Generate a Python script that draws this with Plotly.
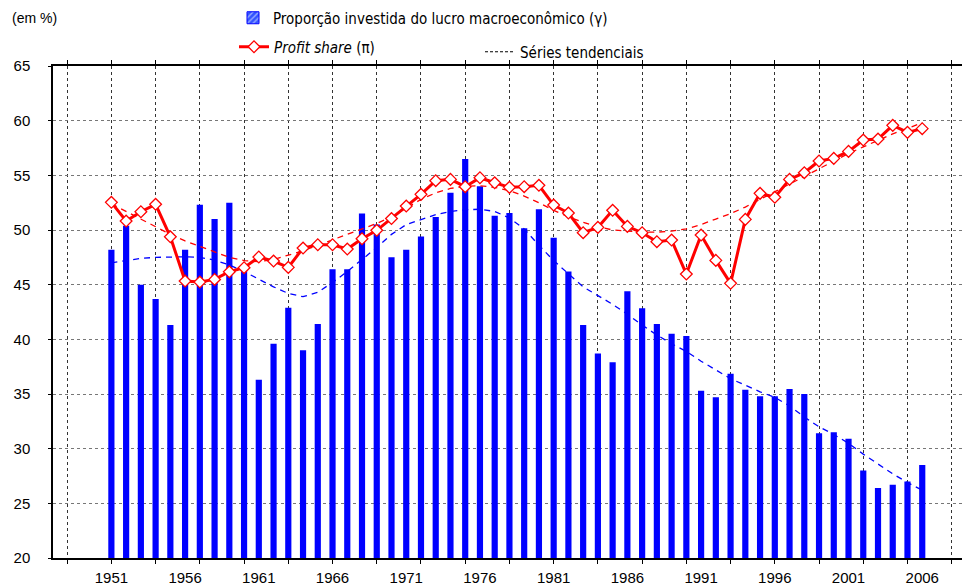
import plotly.graph_objects as go

years = list(range(1951, 2007))

gamma = [48.2, 50.4, 45.0, 43.7, 41.3, 48.2, 52.3, 51.0, 52.5, 46.5,
         36.3, 39.6, 42.9, 39.0, 41.4, 46.4, 46.4, 51.5, 50.5, 47.5,
         48.2, 49.4, 51.2, 53.4, 56.5, 54.0, 51.3, 51.55, 50.15, 51.9,
         49.3, 46.2, 41.3, 38.7, 37.9, 44.4, 42.85, 41.4, 40.5, 40.3,
         35.3, 34.7, 36.85, 35.4, 34.8, 34.8, 35.45, 35.0, 31.4, 31.5,
         30.9, 28.0, 26.4, 26.7, 27.0, 28.5]

profit_share = [52.53, 50.82, 51.67, 52.35, 49.38, 45.33, 45.24, 45.48, 46.18, 46.55,
                47.53, 47.16, 46.58, 48.35, 48.65, 48.65, 48.26, 49.2, 49.97, 51.05,
                52.19, 53.26, 54.51, 54.63, 53.96, 54.78, 54.32, 53.9, 53.96, 54.09,
                52.28, 51.55, 49.75, 50.24, 51.8, 50.33, 49.75, 48.93, 49.08, 45.97,
                49.54, 47.22, 45.12, 50.97, 53.35, 52.99, 54.63, 55.24, 56.31, 56.55,
                57.19, 58.23, 58.32, 59.57, 58.93, 59.27]

trend_profit = [52.4, 51.7, 51.0, 50.3, 49.6, 49.0, 48.5, 48.0, 47.5, 47.2,
                47.1, 47.3, 47.7, 48.1, 48.6, 49.1, 49.6, 50.1, 50.6, 51.2,
                52.0, 52.8, 53.4, 53.8, 54.0, 54.05, 53.9, 53.6, 53.1, 52.5,
                51.8, 51.2, 50.7, 50.3, 50.0, 49.9, 49.8, 49.8, 49.9, 50.1,
                50.5, 51.0, 51.5, 52.1, 52.8, 53.5, 54.2, 54.9, 55.6, 56.3,
                57.0, 57.6, 58.2, 58.8, 59.3, 59.8]

trend_gamma = [47.0, 47.2, 47.4, 47.5, 47.55, 47.55, 47.5, 47.25, 46.8, 46.2,
               45.5, 44.8, 44.2, 43.9, 44.3, 45.2, 46.2, 47.3, 48.4, 49.6,
               50.5, 50.95, 51.4, 51.7, 51.85, 51.9, 51.7, 51.1, 50.1, 48.6,
               47.2, 46.0, 44.8, 44.0, 43.2, 42.3, 41.3, 40.4, 39.6, 38.9,
               38.0, 37.2, 36.4, 35.8, 35.2, 34.7, 33.9, 32.9, 32.0, 31.3,
               30.5, 29.5, 28.6, 27.7, 26.9, 26.2]

grid_years = list(range(1948, 2009, 3))
label_years = list(range(1951, 2007, 5))
y_ticks = list(range(20, 66, 5))

name_gamma = "Proporção investida do lucro macroeconômico (γ)"
name_pi = "<i>Profit share</i> (π)"
name_trend = "Séries tendenciais"

NARROW = "Liberation Sans Narrow, Arial Narrow, DejaVu Sans Condensed, sans-serif"
SANS = "Liberation Sans, Arial, sans-serif"

fig = go.Figure()

fig.add_trace(go.Bar(
    x=years, y=gamma, width=0.42,
    marker=dict(color="#0000FF", line=dict(width=0)),
    showlegend=False, name=name_gamma,
))
# legend-only entry for bars (hatched swatch)
fig.add_trace(go.Bar(
    x=[None], y=[None], name=name_gamma, legend="legend",
    marker=dict(color="#3355FF", line=dict(color="#0000FF", width=1),
                pattern=dict(shape="/", fgcolor="#FFFFFF", size=5, solidity=0.35)),
))
fig.add_trace(go.Scatter(
    x=years, y=trend_gamma, mode="lines",
    line=dict(color="#0000FF", width=1.3, dash="6px,5px"),
    showlegend=False,
))
fig.add_trace(go.Scatter(
    x=years, y=trend_profit, mode="lines",
    line=dict(color="#FF0000", width=1.3, dash="6px,5px"),
    showlegend=False,
))
fig.add_trace(go.Scatter(
    x=years, y=profit_share, mode="lines+markers", name=name_pi, legend="legend2",
    line=dict(color="#FF0000", width=3),
    marker=dict(symbol="diamond", size=9, color="#FFFFFF",
                line=dict(color="#FF0000", width=1.3)),
))
fig.add_trace(go.Scatter(
    x=[None], y=[None], mode="lines", name=name_trend, legend="legend3",
    line=dict(color="#000000", width=1, dash="3px,2px"),
))

legend_common = dict(font=dict(family=NARROW, size=15, color="#000000"),
                     bgcolor="rgba(0,0,0,0)", borderwidth=0,
                     xanchor="left", yanchor="middle", itemclick=False)

# the page has an 8px body margin: figure sits at (8, 8) in the window
OFF = 8
W, H = 970 - OFF, 585 - OFF
L, R, T, B = 53 - OFF, 0, 66 - OFF, 27
pw, ph = W - L - R, H - T - B


def px_x(p):  # window pixel -> paper x
    return (p - OFF - L) / pw


def px_y(p):  # window pixel -> paper y
    return (H - B - (p - OFF)) / ph


fig.update_layout(
    width=W, height=H,
    margin=dict(l=L, r=R, t=T, b=B, pad=0, autoexpand=False),
    plot_bgcolor="#FFFFFF", paper_bgcolor="#FFFFFF",
    barmode="overlay",
    legend=dict(x=px_x(233), y=px_y(18), **legend_common),
    legend2=dict(x=px_x(234), y=px_y(47), **legend_common),
    legend3=dict(x=px_x(480), y=px_y(52), **legend_common),
    xaxis=dict(
        range=[1947.04, 2009.24],
        tickmode="array", tickvals=grid_years, showticklabels=False,
        showgrid=True, gridcolor="#333333", griddash="dot", gridwidth=1,
        ticks="outside", ticklen=4, tickcolor="#000000",
        showline=True, linecolor="#000000", linewidth=1.5, mirror="ticks",
        zeroline=False,
    ),
    xaxis2=dict(
        overlaying="x", matches="x", side="bottom",
        range=[1947.04, 2009.24],
        tickmode="array", tickvals=label_years,
        ticktext=[str(v) for v in label_years],
        showgrid=False, ticks="", showline=False, zeroline=False,
        tickfont=dict(family=SANS, size=15, color="#000000"),
        ticklabelstandoff=9,
    ),
    yaxis=dict(
        range=[20, 65],
        tickmode="array", tickvals=y_ticks,
        showgrid=True, gridcolor="#777777", griddash="dot", gridwidth=1,
        ticks="outside", ticklen=3, tickcolor="#000000",
        showline=True, linecolor="#000000", linewidth=1.5,
        zeroline=False,
        tickfont=dict(family=SANS, size=15, color="#000000"),
        ticklabelstandoff=15,
    ),
    annotations=[dict(
        text="(em %)", xref="paper", yref="paper",
        x=px_x(10), y=px_y(8), xanchor="left", yanchor="top",
        showarrow=False, font=dict(family=SANS, size=14, color="#000000"),
    )],
)

# dummy trace so xaxis2 labels render
fig.add_trace(go.Scatter(x=[None], y=[None], xaxis="x2", showlegend=False))

fig.write_html("out.html")
